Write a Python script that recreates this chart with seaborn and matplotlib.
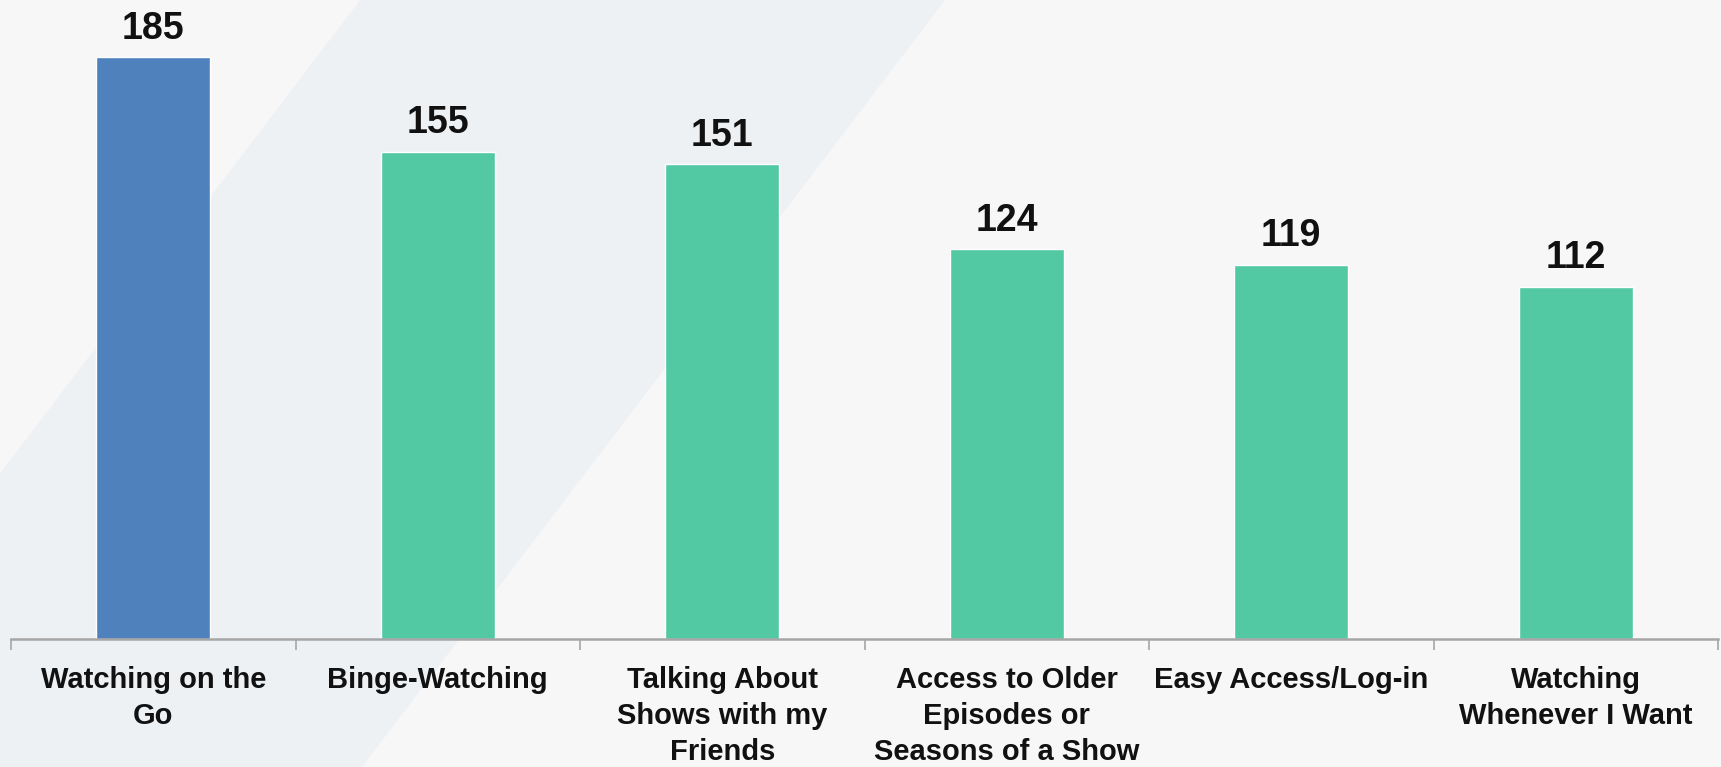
import matplotlib
matplotlib.use("Agg")
import matplotlib.pyplot as plt
import seaborn as sns
import pandas as pd
import numpy as np
from matplotlib.patches import Polygon

categories = ["Watching on the\nGo", "Binge-Watching", "Talking About\nShows with my\nFriends",
              "Access to Older\nEpisodes or\nSeasons of a Show", "Easy Access/Log-in",
              "Watching\nWhenever I Want"]
values = [185, 155, 151, 124, 119, 112]
groups = ["top", "other", "other", "other", "other", "other"]
palette = {"top": "#4f81bd", "other": "#52c9a2"}

sns.set_theme(style="white")
plt.rcParams['font.family'] = ['Liberation Sans', 'DejaVu Sans']

W, H = 1721, 767
fig = plt.figure(figsize=(W/100, H/100), dpi=100)
fig.patch.set_facecolor("#f7f7f7")
# background diagonal band (slide decoration)
band = Polygon([[360/W, 1], [945/W, 1], [(945-583)/W, 0], [(360-583)/W, 0]],
               closed=True, transform=fig.transFigure, facecolor="#eef1f4",
               edgecolor="none", zorder=-10)
fig.patches.append(band)

ax = fig.add_axes([11/W, 1-639/H, 1707/W, 639/H])
ax.set_facecolor("none")
ax.set_zorder(1)

df = pd.DataFrame({"cat": categories, "val": values, "grp": groups})
sns.barplot(data=df, x="cat", y="val", hue="grp", palette=palette, dodge=False,
            width=0.4, legend=False, ax=ax, saturation=1)

ax.set_xlim(-0.5, len(categories)-0.5)
ax.set_ylim(0, 203.2)
ax.set_xlabel("")
ax.set_ylabel("")
ax.set_yticks([])
for s in ["top", "right", "left"]:
    ax.spines[s].set_visible(False)
ax.spines["bottom"].set_color("#a6a6a6")
ax.spines["bottom"].set_linewidth(1.8)

ax.set_xticks(range(len(categories)))
ax.set_xticklabels(categories, fontsize=21, fontweight="bold", color="#111111",
                   linespacing=1.37, va="top")
ax.tick_params(axis="x", which="major", length=0, pad=19.5)
ax.set_xticks(np.arange(-0.5, len(categories), 1.0), minor=True)
ax.tick_params(axis="x", which="minor", length=8, width=1.2, color="#a6a6a6", bottom=True)

for i, v in enumerate(values):
    ax.annotate(str(v), (i, v), xytext=(0, 7.5), textcoords="offset points",
                ha="center", va="bottom", fontsize=27, fontweight="bold", color="#111111")

fig.savefig("out.png", dpi=100, facecolor=fig.get_facecolor())
